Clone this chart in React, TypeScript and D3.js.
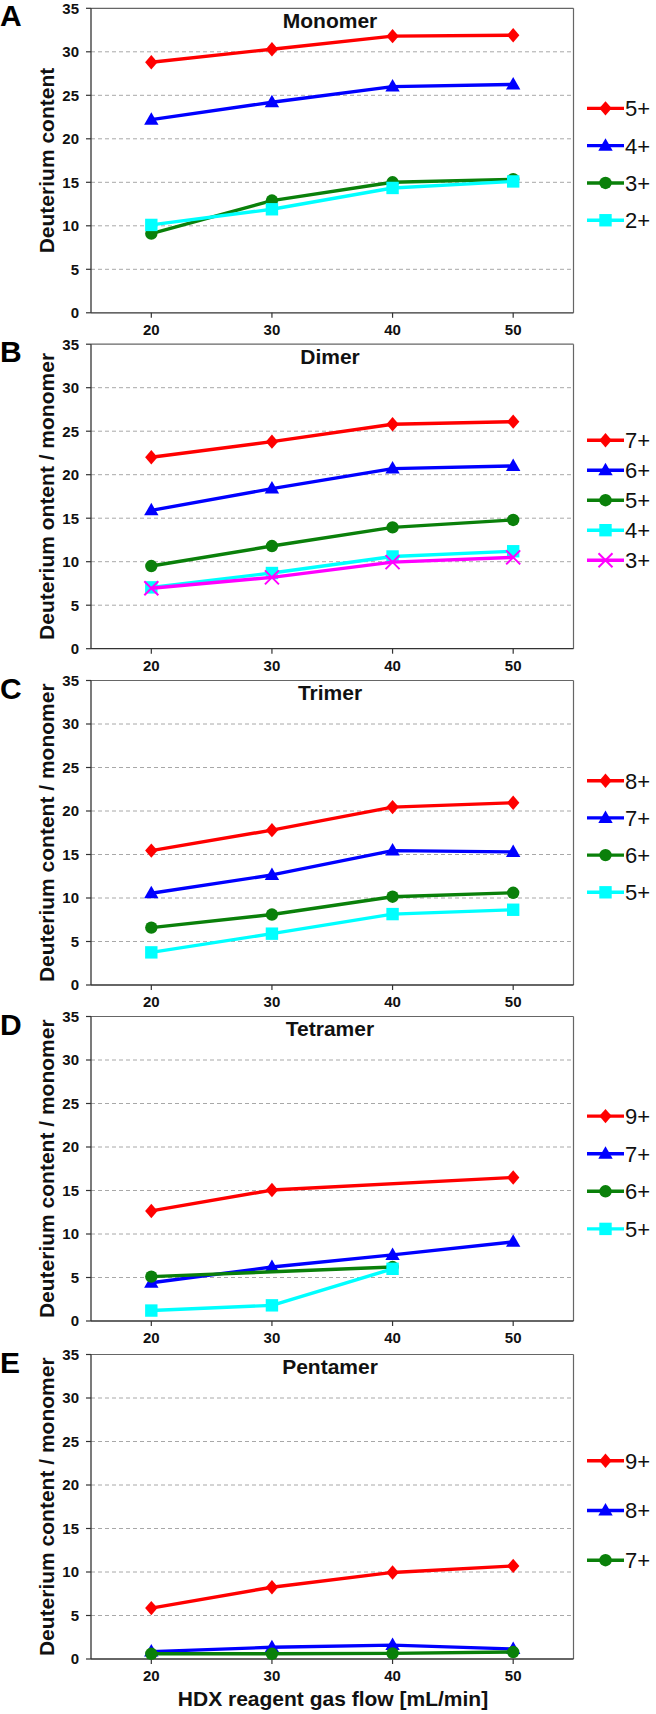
import React from "react";
import * as d3 from "d3";

// ---------- data ----------
const X_CATS = [20, 30, 40, 50];
const Y_TICKS = [0, 5, 10, 15, 20, 25, 30, 35];
const GRID_TICKS = [5, 10, 15, 20, 25, 30];

// Monomer
const mono5 = [28.8, 30.3, 31.8, 31.9];
const mono4 = [22.2, 24.2, 26.0, 26.25];
const mono3 = [9.1, 12.9, 15.0, 15.35];
const mono2 = [10.1, 11.9, 14.35, 15.1];
// Dimer
const dim7 = [22.0, 23.8, 25.8, 26.1];
const dim6 = [15.9, 18.4, 20.7, 21.0];
const dim5 = [9.5, 11.8, 13.95, 14.8];
const dim4 = [7.05, 8.7, 10.6, 11.2];
const dim3 = [6.95, 8.2, 9.95, 10.5];
// Trimer
const tri8 = [15.45, 17.8, 20.45, 20.95];
const tri7 = [10.55, 12.65, 15.45, 15.3];
const tri6 = [6.6, 8.1, 10.15, 10.6];
const tri5 = [3.75, 5.9, 8.15, 8.65];
// Tetramer
const tet9 = [12.65, 15.05, null, 16.5];
const tet7 = [4.4, 6.2, 7.6, 9.1];
const tet6 = [5.1, null, 6.2, null];
const tet5 = [1.2, 1.8, 6.0, null];
// Pentamer
const pen9 = [5.85, 8.25, 9.95, 10.7];
const pen8 = [0.85, 1.35, 1.6, 1.15];
const pen7 = [0.6, 0.6, 0.65, 0.8];

type Marker = "diamond" | "triangle" | "circle" | "square" | "x";
type Series = { label: string; values: (number | null)[]; color: string; marker: Marker };

const RED = "#FF0000";
const BLUE = "#0000FF";
const GREEN = "#0A800A";
const CYAN = "#00FFFF";
const MAGENTA = "#FF00FF";

const panels: {
  letter: string;
  title: string;
  yLabel: string;
  series: Series[];
  top: number;
  legendStep: number;
  showXTitle?: boolean;
}[] = [
  {
    letter: "A",
    title: "Monomer",
    yLabel: "Deuterium content",
    top: 8.3,
    legendStep: 37.3,
    series: [
      { label: "5+", values: mono5, color: RED, marker: "diamond" },
      { label: "4+", values: mono4, color: BLUE, marker: "triangle" },
      { label: "3+", values: mono3, color: GREEN, marker: "circle" },
      { label: "2+", values: mono2, color: CYAN, marker: "square" },
    ],
  },
  {
    letter: "B",
    title: "Dimer",
    yLabel: "Deuterium ontent / monomer",
    top: 344.2,
    legendStep: 30,
    series: [
      { label: "7+", values: dim7, color: RED, marker: "diamond" },
      { label: "6+", values: dim6, color: BLUE, marker: "triangle" },
      { label: "5+", values: dim5, color: GREEN, marker: "circle" },
      { label: "4+", values: dim4, color: CYAN, marker: "square" },
      { label: "3+", values: dim3, color: MAGENTA, marker: "x" },
    ],
  },
  {
    letter: "C",
    title: "Trimer",
    yLabel: "Deuterium content / monomer",
    top: 680.5,
    legendStep: 37.2,
    series: [
      { label: "8+", values: tri8, color: RED, marker: "diamond" },
      { label: "7+", values: tri7, color: BLUE, marker: "triangle" },
      { label: "6+", values: tri6, color: GREEN, marker: "circle" },
      { label: "5+", values: tri5, color: CYAN, marker: "square" },
    ],
  },
  {
    letter: "D",
    title: "Tetramer",
    yLabel: "Deuterium content / monomer",
    top: 1016.5,
    legendStep: 37.6,
    series: [
      { label: "9+", values: tet9, color: RED, marker: "diamond" },
      { label: "7+", values: tet7, color: BLUE, marker: "triangle" },
      { label: "6+", values: tet6, color: GREEN, marker: "circle" },
      { label: "5+", values: tet5, color: CYAN, marker: "square" },
    ],
  },
  {
    letter: "E",
    title: "Pentamer",
    yLabel: "Deuterium content / monomer",
    top: 1354.5,
    legendStep: 49.7,
    showXTitle: true,
    series: [
      { label: "9+", values: pen9, color: RED, marker: "diamond" },
      { label: "8+", values: pen8, color: BLUE, marker: "triangle" },
      { label: "7+", values: pen7, color: GREEN, marker: "circle" },
    ],
  },
];

// ---------- layout ----------
const W = 656;
const H = 1714;
const PLOT_L = 91;
const PLOT_R = 573.5;
const PLOT_H = 304.5;
const FONT = "'Liberation Sans', Arial, Helvetica, sans-serif";

function MarkerShape({ type, x, y, color, s = 1 }: { type: Marker; x: number; y: number; color: string; s?: number }) {
  if (type === "diamond") {
    const w = 6.2 * s, h = 7.2 * s;
    return <path d={`M${x},${y - h}L${x + w},${y}L${x},${y + h}L${x - w},${y}Z`} fill={color} />;
  }
  if (type === "triangle") {
    const w = 7.2 * s, h = 12.5 * s;
    return <path d={`M${x},${y - h * 0.6}L${x + w},${y + h * 0.4}L${x - w},${y + h * 0.4}Z`} fill={color} />;
  }
  if (type === "circle") {
    return <circle cx={x} cy={y} r={6.2 * s} fill={color} />;
  }
  if (type === "square") {
    const h = 6.2 * s;
    return <rect x={x - h} y={y - h} width={2 * h} height={2 * h} fill={color} />;
  }
  const h = 7 * s;
  return (
    <path
      d={`M${x - h},${y - h}L${x + h},${y + h}M${x - h},${y + h}L${x + h},${y - h}`}
      stroke={color}
      strokeWidth={2}
      fill="none"
    />
  );
}

function Panel({ p }: { p: (typeof panels)[number] }) {
  const x = d3.scaleLinear().domain([15, 55]).range([PLOT_L, PLOT_R]);
  const y = d3.scaleLinear().domain([0, 35]).range([p.top + PLOT_H, p.top]);
  const bottom = p.top + PLOT_H;
  const line = d3
    .line<{ x: number; v: number }>()
    .x((d) => x(d.x))
    .y((d) => y(d.v));
  const legendCenter = p.top + 156;
  const n = p.series.length;
  return (
    <g>
      {GRID_TICKS.map((t) => (
        <line
          key={t}
          x1={PLOT_L}
          x2={PLOT_R}
          y1={y(t)}
          y2={y(t)}
          stroke="#a8a8a8"
          strokeWidth={1}
          strokeDasharray="4,3"
        />
      ))}
      <line x1={PLOT_L} x2={PLOT_R} y1={p.top} y2={p.top} stroke="#666" strokeWidth={1.2} />
      <line x1={PLOT_R} x2={PLOT_R} y1={p.top} y2={bottom} stroke="#666" strokeWidth={1.2} />
      <line x1={PLOT_L} x2={PLOT_L} y1={p.top} y2={bottom} stroke="#333" strokeWidth={1.3} />
      <line x1={PLOT_L} x2={PLOT_R} y1={bottom} y2={bottom} stroke="#333" strokeWidth={1.3} />
      {Y_TICKS.map((t) => (
        <g key={t}>
          <line x1={PLOT_L - 5} x2={PLOT_L} y1={y(t)} y2={y(t)} stroke="#333" strokeWidth={1.2} />
          <text
            x={79}
            y={y(t)}
            dy="0.36em"
            textAnchor="end"
            fontFamily={FONT}
            fontWeight="bold"
            fontSize={15}
            fill="#111"
          >
            {t}
          </text>
        </g>
      ))}
      {X_CATS.map((c) => (
        <g key={c}>
          <line x1={x(c)} x2={x(c)} y1={bottom} y2={bottom + 5} stroke="#333" strokeWidth={1.2} />
          <text
            x={x(c)}
            y={bottom + 22}
            textAnchor="middle"
            fontFamily={FONT}
            fontWeight="bold"
            fontSize={15}
            fill="#111"
          >
            {c}
          </text>
        </g>
      ))}
      {p.series.map((s) => {
        const pts = s.values
          .map((v, i) => ({ x: X_CATS[i], v }))
          .filter((d) => d.v !== null) as { x: number; v: number }[];
        return (
          <g key={s.label}>
            <path d={line(pts) || ""} fill="none" stroke={s.color} strokeWidth={3.4} strokeLinejoin="round" />
            {pts.map((d, i) => (
              <MarkerShape key={i} type={s.marker} x={x(d.x)} y={y(d.v)} color={s.color} />
            ))}
          </g>
        );
      })}
      <text
        x={330}
        y={p.top + 19.5}
        textAnchor="middle"
        fontFamily={FONT}
        fontWeight="bold"
        fontSize={21}
        fill="#111"
      >
        {p.title}
      </text>
      <text
        transform={`translate(54, ${p.top + PLOT_H / 2}) rotate(-90)`}
        textAnchor="middle"
        fontFamily={FONT}
        fontWeight="bold"
        fontSize={21}
        fill="#111"
      >
        {p.yLabel}
      </text>
      <text x={0} y={p.top + 18} fontFamily={FONT} fontWeight="bold" fontSize={30} fill="#000">
        {p.letter}
      </text>
      {p.series.map((s, i) => {
        const ly = legendCenter + (i - (n - 1) / 2) * p.legendStep;
        return (
          <g key={s.label}>
            <line x1={587} x2={624} y1={ly} y2={ly} stroke={s.color} strokeWidth={3.4} />
            <MarkerShape type={s.marker} x={605.5} y={ly} color={s.color} s={1} />
            <text x={625} y={ly} dy="0.36em" fontFamily={FONT} fontSize={22} fill="#111">
              {s.label}
            </text>
          </g>
        );
      })}
      {p.showXTitle && (
        <text
          x={333}
          y={1706}
          textAnchor="middle"
          fontFamily={FONT}
          fontWeight="bold"
          fontSize={21}
          fill="#111"
        >
          HDX reagent gas flow [mL/min]
        </text>
      )}
    </g>
  );
}

export default function App() {
  return (
    <svg
      width={W}
      height={H}
      viewBox={`0 0 ${W} ${H}`}
      style={{ position: "absolute", left: 0, top: 0, background: "#fff" }}
    >
      <rect x={0} y={0} width={W} height={H} fill="#fff" />
      {panels.map((p) => (
        <Panel key={p.letter} p={p} />
      ))}
    </svg>
  );
}
